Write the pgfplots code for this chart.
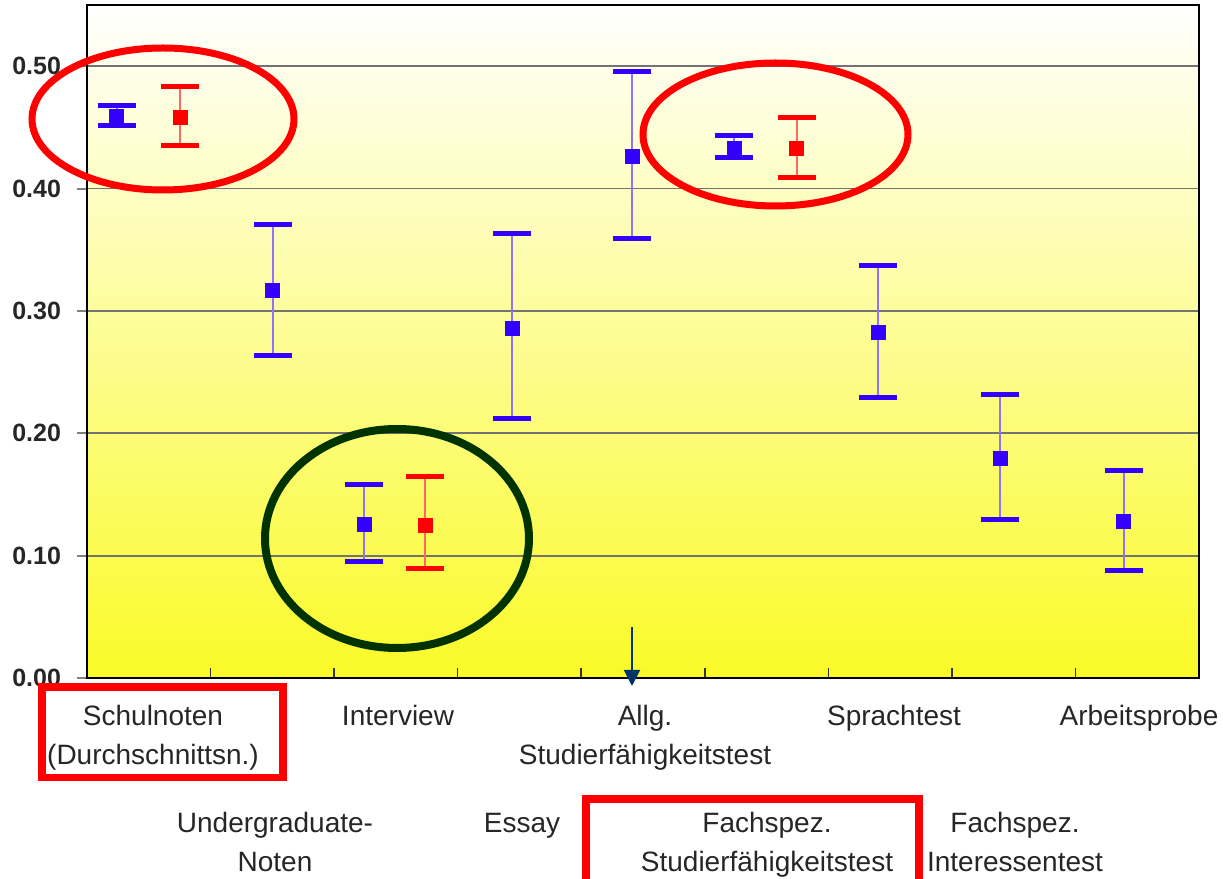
\documentclass[border=0pt]{standalone}
\usepackage{fontspec}
\setmainfont{Liberation Sans}
\usepackage{pgfplots}
\pgfplotsset{compat=1.18}
\usetikzlibrary{arrows.meta}

\definecolor{ptblue}{RGB}{51,0,255}
\definecolor{ptred}{RGB}{255,0,0}
\definecolor{ringgreen}{RGB}{0,51,0}
\definecolor{arrowblue}{RGB}{0,51,102}
\definecolor{bgyellow}{RGB}{250,250,40}

\begin{document}
\begin{tikzpicture}[
  px/.style={x=0.5pt,y=-0.5pt,shift={(-43.5pt,339pt)}},
  lab/.style={anchor=base, align=center, inner sep=0pt, font=\fontsize{14}{19}\selectfont, text=black!85}]
\useasboundingbox (-43.5pt,339pt) rectangle (568pt,-100.5pt);
\begin{axis}[
  at={(0,0)}, anchor=south west,
  scale only axis, width=556pt, height=336.5pt,
  xmin=0, xmax=9, ymin=0, ymax=0.55,
  axis background/.style={shade, top color=white, bottom color=bgyellow},
  axis line style={black, line width=0.8pt},
  xtick={1,...,8}, xticklabels={}, xtick pos=bottom,
  ytick={0,0.1,...,0.5}, ytick pos=left,
  tick align=inside, major tick length=5pt,
  xtick style={black!80, line width=0.8pt},
  ytick style={gray, line width=1pt, xshift=-5pt},
  ymajorgrids, grid style={black!55, line width=0.9pt},
  yticklabel style={font=\fontsize{12.5}{14}\selectfont\bfseries, text=black!85, xshift=-9.5pt},
  /pgf/number format/fixed, /pgf/number format/fixed zerofill,
  /pgf/number format/precision=2, /pgf/number format/assume math mode=true,
  ]

  % blue series
  \addplot[only marks, mark=square*, mark size=3.5pt, color=ptblue,
    error bars/.cd, y dir=both, y explicit, error mark=|,
    error bar style={ptblue!55, line width=1pt},
    error mark options={ptblue, line width=2.5pt, mark size=9.5pt}]
    coordinates {
      (0.240,0.4592) += (0,0.0088) -= (0,0.0076)
      (1.503,0.3164) += (0,0.0541) -= (0,0.0525)
      (2.244,0.1252) += (0,0.0330) -= (0,0.0301)
      (3.442,0.2858) += (0,0.0776) -= (0,0.0741)
      (4.413,0.4262) += (0,0.0695) -= (0,0.0674)
      (5.239,0.4325) += (0,0.0109) -= (0,0.0073)
      (6.404,0.2825) += (0,0.0544) -= (0,0.0536)
      (7.392,0.1793) += (0,0.0521) -= (0,0.0495)
      (8.390,0.1281) += (0,0.0418) -= (0,0.0404)
    };

  % red series
  \addplot[only marks, mark=square*, mark size=3.5pt, color=ptred,
    error bars/.cd, y dir=both, y explicit, error mark=|,
    error bar style={ptred!60, line width=1pt},
    error mark options={ptred, line width=2.5pt, mark size=9.5pt}]
    coordinates {
      (0.753,0.4582) += (0,0.0256) -= (0,0.0230)
      (2.736,0.1246) += (0,0.0399) -= (0,0.0355)
      (5.744,0.4330) += (0,0.0252) -= (0,0.0242)
    };
\end{axis}

\begin{scope}[px]
  % category labels (base = baseline of the last line)
  \node[lab] at (153,764) {Schulnoten\\(Durchschnittsn.)};
  \node[lab] at (398,726) {Interview};
  \node[lab] at (645,764) {Allg.\\Studierfähigkeitstest};
  \node[lab] at (894,726) {Sprachtest};
  \node[lab] at (1139,726) {Arbeitsprobe};
  \node[lab] at (275,871) {Undergraduate-\\Noten};
  \node[lab] at (522,833) {Essay};
  \node[lab] at (767,871) {Fachspez.\\Studierfähigkeitstest};
  \node[lab] at (1015,871) {Fachspez.\\Interessentest};

  % highlights
  \draw[ptred, line width=3.5pt] (163,119) ellipse [x radius=65.5pt, y radius=35.5pt];
  \draw[ptred, line width=3.5pt] (775.5,134.5) ellipse [x radius=66.25pt, y radius=35.75pt];
  \draw[ringgreen, line width=4pt] (397,538.5) ellipse [x radius=66pt, y radius=54.75pt];
  \draw[ptred, line width=3.8pt] (42,687.3) rectangle (283,777.7);
  \draw[ptred, line width=3.8pt] (586,799) rectangle (919,900);
  \draw[arrowblue, line width=0.9pt, -{Triangle[width=8pt,length=8pt]}] (632,627) -- (632,686);
\end{scope}
\end{tikzpicture}
\end{document}
